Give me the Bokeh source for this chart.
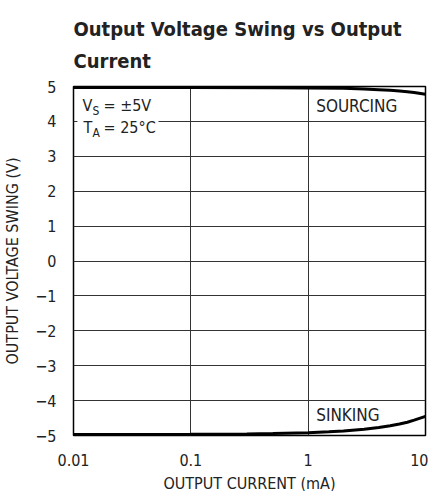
from bokeh.plotting import figure
from bokeh.models import FixedTicker, Label, BoxAnnotation, Range1d
from bokeh.embed import file_html
from bokeh.resources import INLINE

# ---- data ----
title_lines = ["Output Voltage Swing vs Output", "Current"]
x_ticks = [0.01, 0.1, 1, 10]
x_tick_labels = ["0.01", "0.1", "1", "10"]
y_ticks = [-5, -4, -3, -2, -1, 0, 1, 2, 3, 4, 5]

current_sourcing = [0.01, 0.1, 0.5, 1, 2, 3, 4, 5, 6, 7, 8, 10]
swing_sourcing = [4.97, 4.97, 4.965, 4.96, 4.95, 4.93, 4.91, 4.89, 4.87, 4.85, 4.83, 4.78]

current_sinking = [0.01, 0.1, 0.3, 0.5, 1, 1.5, 2, 3, 4, 5, 6, 7, 8, 10]
swing_sinking = [-4.97, -4.965, -4.955, -4.945, -4.92, -4.895, -4.87, -4.82,
                 -4.77, -4.72, -4.67, -4.62, -4.56, -4.45]

FONT = "'DejaVu Sans Condensed', 'Roboto Condensed', Roboto"

p = figure(
    x_axis_type="log",
    x_range=Range1d(0.01, 10),
    y_range=Range1d(-5, 5),
    frame_width=352, frame_height=349,
    min_border_left=65, min_border_right=3, min_border_top=86, min_border_bottom=50,
    output_backend="svg", toolbar_location=None,
    title="\n".join(title_lines),
)
p.title.text_font = FONT
p.title.text_font_style = "bold"
p.title.text_font_size = "20px"
p.title.text_color = "#222222"
p.title.text_line_height = 1.35
p.title.align = "left"
p.title.standoff = 27

p.outline_line_color = "black"
p.outline_line_width = 1.5

for ax in (p.xaxis[0], p.yaxis[0]):
    ax.major_tick_line_color = None
    ax.minor_tick_line_color = None
    ax.axis_line_color = None
    ax.major_label_text_font = FONT
    ax.major_label_text_font_size = "16px"
    ax.major_label_text_color = "#222222"
    ax.axis_label_text_font = FONT
    ax.axis_label_text_font_size = "16px"
    ax.axis_label_text_font_style = "normal"
    ax.axis_label_text_color = "#222222"

p.xaxis.ticker = FixedTicker(ticks=x_ticks)
p.xaxis.major_label_overrides = {t: l for t, l in zip(x_ticks, x_tick_labels)}
p.xaxis.axis_label = "OUTPUT CURRENT (mA)"
p.xaxis.major_label_standoff = 12
p.xaxis.axis_label_standoff = 5

p.yaxis.ticker = FixedTicker(ticks=y_ticks)
p.yaxis.major_label_overrides = {t: str(t).replace("-", "\u2212") for t in y_ticks}
p.yaxis.axis_label = "OUTPUT VOLTAGE SWING (V)"
p.yaxis.major_label_standoff = 11
p.yaxis.axis_label_standoff = 10

p.xgrid.ticker = FixedTicker(ticks=x_ticks)
p.ygrid.ticker = FixedTicker(ticks=y_ticks)
for g in (p.xgrid[0], p.ygrid[0]):
    g.grid_line_color = "#333333"
    g.grid_line_width = 1
    g.minor_grid_line_color = None

p.line(current_sourcing, swing_sourcing, line_width=3, line_color="black")
p.line(current_sinking, swing_sinking, line_width=3, line_color="black")

# white patch behind the condition text (interrupts the gridline)
p.add_layout(BoxAnnotation(left=0.0108, right=0.053, bottom=3.75, top=4.25,
                           fill_color="white", fill_alpha=1, line_color=None))

def lab(x, y, text, xo, yo, size="16px"):
    p.add_layout(Label(x=x, y=y, text=text, x_offset=xo, y_offset=yo,
                       text_font=FONT, text_font_size=size, text_color="#222222",
                       text_baseline="alphabetic", text_align="left"))

# V_S = ±5V
lab(0.01, 5, "V", 9, -19)
lab(0.01, 5, "S", 19, -24, "12px")
lab(0.01, 5, "= \u00b15V", 30, -19)
# T_A = 25°C
lab(0.01, 5, "T", 10, -41)
lab(0.01, 5, "A", 19, -46, "12px")
lab(0.01, 5, "= 25\u00b0C", 30, -41)

lab(1, 5, "SOURCING", 8, -19, "17px")
lab(1, -5, "SINKING", 8, 21, "17px")

open("out.html", "w").write(file_html(p, INLINE))
